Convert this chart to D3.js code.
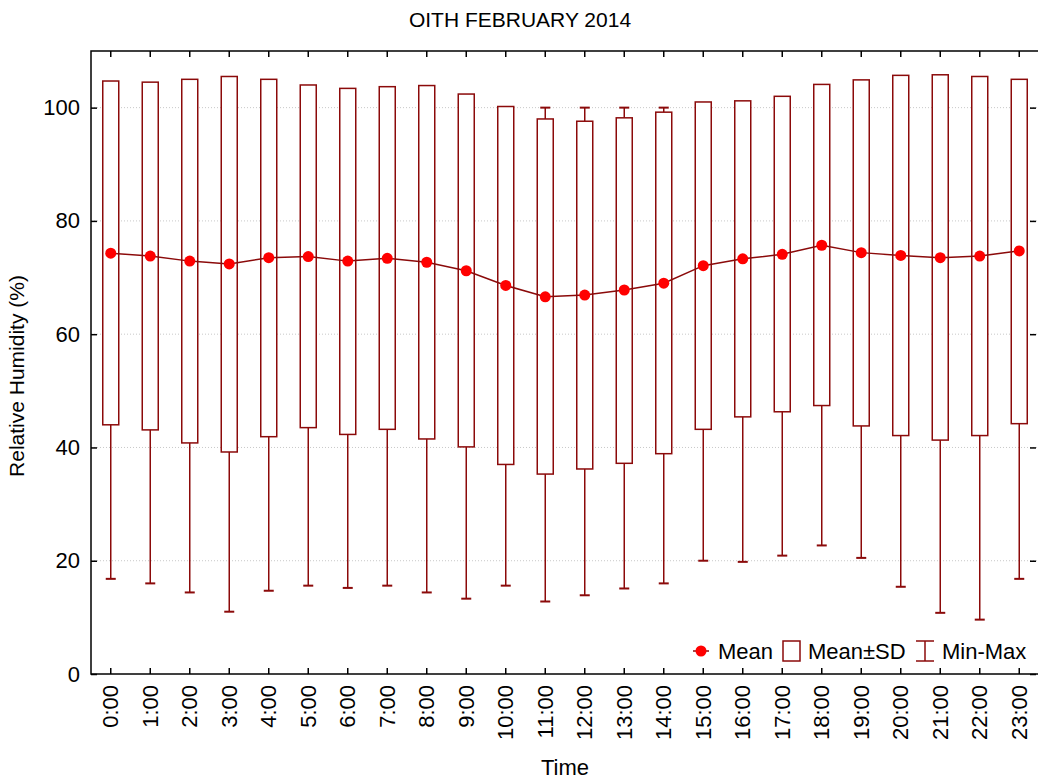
<!DOCTYPE html>
<html>
<head>
<meta charset="utf-8">
<script src="https://cdn.jsdelivr.net/npm/d3@7"></script>
<style>
  body { margin: 0; background: #fff; }
  text { font-family: "Liberation Sans", Arial, sans-serif; }
</style>
</head>
<body>
<svg id="chart" width="1038" height="780"></svg>
<script>
// hourly relative humidity, February 2014
const hours = ["0:00","1:00","2:00","3:00","4:00","5:00","6:00","7:00","8:00","9:00","10:00","11:00",
               "12:00","13:00","14:00","15:00","16:00","17:00","18:00","19:00","20:00","21:00","22:00","23:00"];
const meanVals = [74.3,73.8,72.9,72.4,73.5,73.7,72.9,73.4,72.7,71.2,68.6,66.6,
                  66.9,67.8,69.0,72.1,73.3,74.1,75.7,74.4,73.9,73.5,73.8,74.7];
const sdHigh = [104.7,104.5,105.0,105.5,105.0,104.0,103.4,103.7,103.9,102.4,100.2,98.0,
                97.6,98.2,99.2,101.0,101.2,102.0,104.1,104.9,105.7,105.8,105.5,105.0];
const sdLow = [44.0,43.1,40.8,39.2,41.9,43.5,42.3,43.2,41.5,40.1,37.0,35.3,
               36.2,37.2,38.9,43.2,45.4,46.3,47.4,43.8,42.1,41.3,42.1,44.2];
const minVals = [16.8,16.0,14.4,11.0,14.7,15.6,15.2,15.6,14.4,13.3,15.6,12.8,
                 13.9,15.1,16.0,20.0,19.8,20.9,22.7,20.5,15.4,10.8,9.6,16.8];
const maxVals = [100,100,100,100,100,100,100,100,100,100,100,100,
                 100,100,100,100,100,100,100,100,100,100,100,100];
const yTicks = [0, 20, 40, 60, 80, 100];

const data = hours.map((h, i) => ({
    hour: h, mean: meanVals[i], hi: sdHigh[i], lo: sdLow[i], min: minVals[i], max: maxVals[i]
}));

const dark = "#8b0a0a";
const plotL = 91, plotR = 1039, plotT = 51, plotB = 674;
const fs = 22;

const svg = d3.select("#chart");

const x = d3.scaleBand().domain(hours).range([plotL, plotR]).padding(0);
const y = d3.scaleLinear().domain([0, 110]).range([plotB, plotT]);
const cx = d => x(d.hour) + x.bandwidth() / 2;

// grid
svg.append("g").selectAll("line")
    .data(yTicks.filter(t => t > 0))
    .enter().append("line")
    .attr("x1", plotL).attr("x2", plotR)
    .attr("y1", d => y(d)).attr("y2", d => y(d))
    .attr("stroke", "#c8c8c8")
    .attr("stroke-dasharray", "1,2");

// axes (ticks pointing inward)
const axB = svg.append("g").attr("transform", `translate(0,${plotB})`)
    .call(d3.axisBottom(x).tickSizeInner(-6).tickSizeOuter(0).tickFormat(""));
const axT = svg.append("g").attr("transform", `translate(0,${plotT})`)
    .call(d3.axisTop(x).tickSizeInner(-6).tickSizeOuter(0).tickFormat(""));
const axL = svg.append("g").attr("transform", `translate(${plotL},0)`)
    .call(d3.axisLeft(y).tickValues(yTicks).tickSizeInner(-6).tickSizeOuter(0).tickPadding(11));
const axR = svg.append("g").attr("transform", `translate(${plotR - 3},0)`)
    .call(d3.axisRight(y).tickValues(yTicks).tickSizeInner(-6).tickSizeOuter(0).tickFormat(""));
[axB, axT, axL, axR].forEach(a => {
    a.select(".domain").remove();
    a.selectAll(".tick line").attr("stroke", "#000").attr("stroke-width", 1.5);
});
axL.selectAll(".tick text").attr("font-size", fs).attr("fill", "#000")
    .attr("font-family", "Liberation Sans, Arial, sans-serif");

// rotated hour labels
svg.append("g").selectAll("text")
    .data(hours)
    .enter().append("text")
    .attr("transform", d => `translate(${x(d) + x.bandwidth() / 2},${plotB + 11}) rotate(-90)`)
    .attr("text-anchor", "end")
    .attr("dy", "0.35em")
    .attr("font-size", fs)
    .text(d => d);

// frame
svg.append("rect")
    .attr("x", plotL).attr("y", plotT)
    .attr("width", plotR - plotL).attr("height", plotB - plotT)
    .attr("fill", "none").attr("stroke", "#000").attr("stroke-width", 1.5);

const plot = svg.append("g");
const boxW = 16, capW = 10;

// min-max whiskers
plot.selectAll(".whisker")
    .data(data).enter().append("line")
    .attr("x1", cx).attr("x2", cx)
    .attr("y1", d => y(d.min)).attr("y2", d => y(d.max))
    .attr("stroke", dark).attr("stroke-width", 1.5);
plot.selectAll(".capLo")
    .data(data).enter().append("line")
    .attr("x1", d => cx(d) - capW / 2).attr("x2", d => cx(d) + capW / 2)
    .attr("y1", d => y(d.min)).attr("y2", d => y(d.min))
    .attr("stroke", dark).attr("stroke-width", 2);
plot.selectAll(".capHi")
    .data(data).enter().append("line")
    .attr("x1", d => cx(d) - capW / 2).attr("x2", d => cx(d) + capW / 2)
    .attr("y1", d => y(d.max)).attr("y2", d => y(d.max))
    .attr("stroke", dark).attr("stroke-width", 2);

// mean +- SD boxes
plot.selectAll(".box")
    .data(data).enter().append("rect")
    .attr("x", d => cx(d) - boxW / 2)
    .attr("y", d => y(d.hi))
    .attr("width", boxW)
    .attr("height", d => y(d.lo) - y(d.hi))
    .attr("fill", "#fff")
    .attr("stroke", dark).attr("stroke-width", 1.5);

// mean line + points
plot.append("path")
    .datum(data)
    .attr("d", d3.line().x(cx).y(d => y(d.mean)))
    .attr("fill", "none").attr("stroke", dark).attr("stroke-width", 1.5);
plot.selectAll(".mean")
    .data(data).enter().append("circle")
    .attr("cx", cx).attr("cy", d => y(d.mean))
    .attr("r", 5.5).attr("fill", "#ff0000");

// titles
svg.append("text").attr("x", 520).attr("y", 27)
    .attr("text-anchor", "middle").attr("font-size", 21)
    .text("OITH FEBRUARY 2014");
svg.append("text").attr("x", (plotL + plotR) / 2).attr("y", 775)
    .attr("text-anchor", "middle").attr("font-size", fs)
    .text("Time");
svg.append("text")
    .attr("transform", `translate(24,376) rotate(-90)`)
    .attr("text-anchor", "middle").attr("font-size", 21)
    .text("Relative Humidity (%)");

// legend
const lg = svg.append("g");
const ly = 651;
lg.append("line").attr("x1", 693).attr("x2", 709).attr("y1", ly).attr("y2", ly)
    .attr("stroke", dark).attr("stroke-width", 1.5);
lg.append("circle").attr("cx", 701).attr("cy", ly).attr("r", 5.5).attr("fill", "#ff0000");
lg.append("text").attr("x", 718).attr("y", ly + 8).attr("font-size", fs).text("Mean");
lg.append("rect").attr("x", 783).attr("y", ly - 10).attr("width", 17).attr("height", 20)
    .attr("fill", "#fff").attr("stroke", dark).attr("stroke-width", 1.5);
lg.append("text").attr("x", 808).attr("y", ly + 8).attr("font-size", fs).text("Mean±SD");
lg.append("line").attr("x1", 925).attr("x2", 925).attr("y1", ly - 10).attr("y2", ly + 10)
    .attr("stroke", dark).attr("stroke-width", 1.5);
lg.append("line").attr("x1", 916).attr("x2", 934).attr("y1", ly - 10).attr("y2", ly - 10)
    .attr("stroke", dark).attr("stroke-width", 1.5);
lg.append("line").attr("x1", 916).attr("x2", 934).attr("y1", ly + 10).attr("y2", ly + 10)
    .attr("stroke", dark).attr("stroke-width", 1.5);
lg.append("text").attr("x", 942).attr("y", ly + 8).attr("font-size", fs).text("Min-Max");
</script>
</body>
</html>
